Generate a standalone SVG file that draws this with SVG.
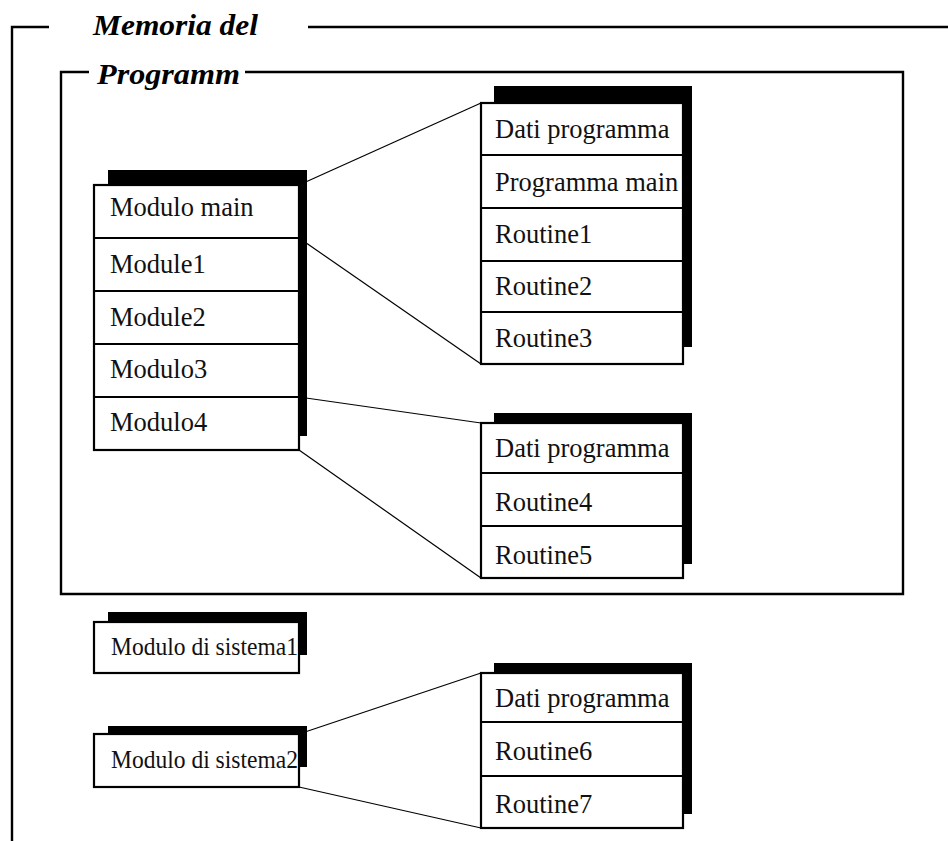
<svg xmlns="http://www.w3.org/2000/svg" width="948" height="841" viewBox="0 0 948 841">
  <style>
    .frame { fill: none; stroke: #000; stroke-width: 2.4; }
    .box { fill: #fff; stroke: #000; stroke-width: 2.2; }
    .shadow { fill: #000; }
    .div { stroke: #000; stroke-width: 2.2; }
    .conn { stroke: #000; stroke-width: 1.2; fill: none; }
    .lbl { font-family: "Liberation Serif", "Times New Roman", serif; font-size: 26.5px; fill: #111; }
    .sys { font-family: "Liberation Serif", "Times New Roman", serif; font-size: 26px; fill: #111; }
    .title { font-family: "Liberation Serif", "Times New Roman", serif; font-size: 30px; font-weight: bold; font-style: italic; fill: #000; }
  </style>

  <!-- outer frame: program memory -->
  <g id="outer-frame">
    <polyline class="frame" points="49,27 12,27 12,841"/>
    <line class="frame" x1="308" y1="27" x2="948" y2="27"/>
    <text class="title" x="93" y="35" textLength="165" lengthAdjust="spacingAndGlyphs">Memoria del</text>
  </g>

  <!-- inner frame -->
  <g id="inner-frame">
    <polyline class="frame" points="89,72 61,72 61,594 903,594 903,72 245,72"/>
    <text class="title" x="97" y="84" textLength="143" lengthAdjust="spacingAndGlyphs">Programm</text>
  </g>

  <!-- connectors drawn first so the boxes sit on top -->
  <g id="connectors">
    <line class="conn" x1="299" y1="185" x2="481" y2="103"/>
    <line class="conn" x1="299" y1="238" x2="481" y2="364"/>
    <line class="conn" x1="299" y1="397" x2="481" y2="423"/>
    <line class="conn" x1="299" y1="450" x2="481" y2="578"/>
    <line class="conn" x1="299" y1="734" x2="481" y2="673"/>
    <line class="conn" x1="299" y1="787" x2="481" y2="828"/>
  </g>

  <!-- main module stack -->
  <g id="modulo-main">
    <rect class="shadow" x="108" y="170" width="199" height="266"/>
    <rect class="box" x="94" y="185" width="205" height="265"/>
    <line class="div" x1="94" y1="238" x2="299" y2="238"/>
    <line class="div" x1="94" y1="291" x2="299" y2="291"/>
    <line class="div" x1="94" y1="344" x2="299" y2="344"/>
    <line class="div" x1="94" y1="397" x2="299" y2="397"/>
    <text class="lbl" x="110" y="216">Modulo main</text>
    <text class="lbl" x="110" y="273">Module1</text>
    <text class="lbl" x="110" y="326">Module2</text>
    <text class="lbl" x="110" y="378">Modulo3</text>
    <text class="lbl" x="110" y="431">Modulo4</text>
  </g>

  <!-- routines of the main module -->
  <g id="stack-main">
    <rect class="shadow" x="494" y="86" width="198" height="261"/>
    <rect class="box" x="481" y="103" width="202" height="261"/>
    <line class="div" x1="481" y1="155" x2="683" y2="155"/>
    <line class="div" x1="481" y1="208" x2="683" y2="208"/>
    <line class="div" x1="481" y1="261" x2="683" y2="261"/>
    <line class="div" x1="481" y1="312" x2="683" y2="312"/>
    <text class="lbl" x="495" y="138">Dati programma</text>
    <text class="lbl" x="495" y="191">Programma main</text>
    <text class="lbl" x="495" y="243">Routine1</text>
    <text class="lbl" x="495" y="295">Routine2</text>
    <text class="lbl" x="495" y="347">Routine3</text>
  </g>

  <!-- routines of module 4 -->
  <g id="stack-modulo4">
    <rect class="shadow" x="494" y="413" width="198" height="151"/>
    <rect class="box" x="481" y="423" width="202" height="155"/>
    <line class="div" x1="481" y1="473" x2="683" y2="473"/>
    <line class="div" x1="481" y1="526" x2="683" y2="526"/>
    <text class="lbl" x="495" y="457">Dati programma</text>
    <text class="lbl" x="495" y="511">Routine4</text>
    <text class="lbl" x="495" y="564">Routine5</text>
  </g>

  <!-- system module 1 -->
  <g id="sistema1">
    <rect class="shadow" x="108" y="612" width="199" height="43"/>
    <rect class="box" x="94" y="622" width="205" height="51"/>
    <text class="sys" x="111" y="655" textLength="187" lengthAdjust="spacingAndGlyphs">Modulo di sistema1</text>
  </g>

  <!-- system module 2 -->
  <g id="sistema2">
    <rect class="shadow" x="108" y="726" width="199" height="41"/>
    <rect class="box" x="94" y="734" width="205" height="53"/>
    <text class="sys" x="111" y="768" textLength="187" lengthAdjust="spacingAndGlyphs">Modulo di sistema2</text>
  </g>

  <!-- routines of system module 2 -->
  <g id="stack-sistema2">
    <rect class="shadow" x="494" y="663" width="198" height="151"/>
    <rect class="box" x="481" y="673" width="202" height="155"/>
    <line class="div" x1="481" y1="722" x2="683" y2="722"/>
    <line class="div" x1="481" y1="776" x2="683" y2="776"/>
    <text class="lbl" x="495" y="707">Dati programma</text>
    <text class="lbl" x="495" y="760">Routine6</text>
    <text class="lbl" x="495" y="813">Routine7</text>
  </g>
</svg>
